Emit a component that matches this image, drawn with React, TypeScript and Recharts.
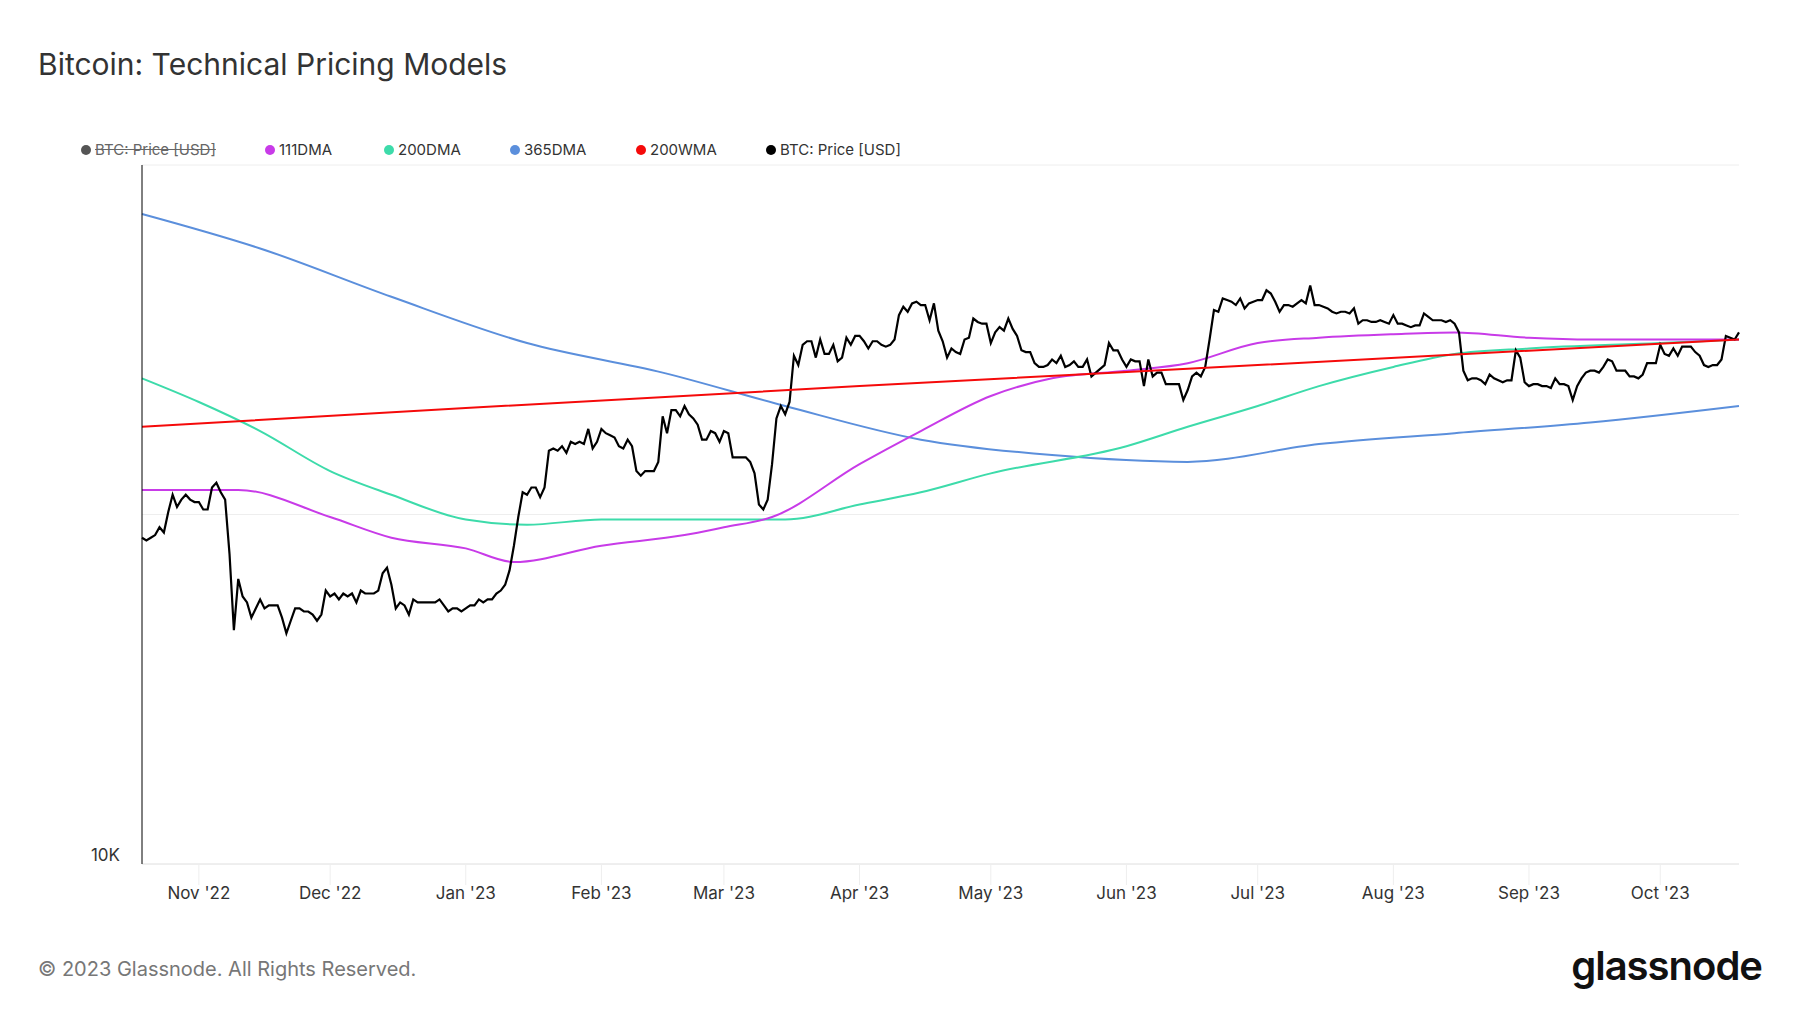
import React from 'react';
import { LineChart, Line, XAxis, YAxis, CartesianGrid } from 'recharts';

// Daily BTC price (K USD) from Oct 19 2022 to Oct 19 2023
const priceOct22 = [19.1,19.0,19.1,19.2,19.5,19.3,20.1,20.8,20.3,20.6,20.8,20.6,20.5];
const priceNov22 = [20.5,20.2,20.2,21.1,21.3,20.9,20.6,18.5,15.9,17.6,17.0,16.8,16.3,16.6,16.9,16.6,16.7,16.7,16.7,16.3,15.8,16.2,16.6,16.6,16.5,16.5,16.4,16.2,16.4,17.2];
const priceDec22 = [17.0,17.1,16.9,17.1,17.0,17.1,16.8,17.2,17.1,17.1,17.1,17.2,17.8,18.0,17.4,16.6,16.8,16.7,16.4,16.9,16.8,16.8,16.8,16.8,16.8,16.9,16.7,16.5,16.6,16.6,16.5];
const priceJan23 = [16.6,16.7,16.7,16.9,16.8,16.9,16.9,17.1,17.2,17.4,17.9,18.8,19.9,20.9,20.8,21.1,21.1,20.7,21.1,22.7,22.8,22.7,22.9,22.6,23.1,23.0,23.1,23.0,23.7,22.8,23.1];
const priceFeb23 = [23.7,23.5,23.4,23.3,22.9,22.8,23.2,22.9,21.8,21.6,21.8,21.8,21.8,22.2,24.3,23.5,24.6,24.6,24.3,24.8,24.4,24.2,23.9,23.2,23.2,23.6,23.5,23.1];
const priceMar23 = [23.6,23.5,22.4,22.4,22.4,22.4,22.2,21.7,20.4,20.2,20.6,22.1,24.2,24.8,24.4,25.0,27.4,26.9,28.0,28.2,28.2,27.3,28.3,27.5,27.5,28.0,27.1,27.3,28.4,28.0,28.5];
const priceApr23 = [28.5,28.2,27.8,28.2,28.2,28.0,27.9,28.0,28.3,29.7,30.2,29.9,30.4,30.5,30.3,30.3,29.4,30.4,28.8,28.2,27.3,27.8,27.6,27.5,28.3,28.4,29.5,29.3,29.2,29.2];
const priceMay23 = [28.1,28.7,29.0,28.8,29.5,28.9,28.5,27.7,27.6,27.6,27.0,26.8,26.8,26.9,27.2,27.0,27.4,26.8,26.9,27.1,26.8,26.8,27.2,26.3,26.5,26.7,26.9,28.1,27.7,27.7,27.2];
const priceJun23 = [26.8,27.2,27.1,27.1,25.8,27.2,26.3,26.5,26.5,25.9,25.9,25.9,25.9,25.1,25.6,26.3,26.5,26.3,26.8,28.3,30.0,29.9,30.7,30.6,30.5,30.3,30.7,30.1,30.4,30.5];
const priceJul23 = [30.6,30.6,31.2,31.0,30.5,29.9,30.3,30.3,30.2,30.4,30.6,30.4,31.5,30.3,30.3,30.2,30.1,29.9,29.8,29.9,29.9,29.8,30.1,29.2,29.4,29.4,29.3,29.3,29.4,29.3,29.2];
const priceAug23 = [29.7,29.2,29.2,29.1,29.0,29.1,29.1,29.8,29.6,29.4,29.4,29.4,29.3,29.4,29.2,28.7,26.6,26.1,26.2,26.2,26.1,25.9,26.4,26.2,26.1,26.0,26.1,26.1,27.7,27.3,26.0];
const priceSep23 = [25.8,25.9,25.9,25.8,25.8,25.7,26.2,25.9,25.9,25.8,25.1,25.8,26.2,26.5,26.6,26.6,26.5,26.8,27.2,27.1,26.6,26.6,26.6,26.3,26.3,26.2,26.4,27.0,27.0,27.0];
const priceOct23 = [28.0,27.5,27.4,27.8,27.4,27.9,27.9,27.9,27.6,27.4,26.9,26.8,26.9,26.9,27.2,28.5,28.4,28.3,28.7];

const price = [...priceOct22, ...priceNov22, ...priceDec22, ...priceJan23, ...priceFeb23, ...priceMar23, ...priceApr23, ...priceMay23, ...priceJun23, ...priceJul23, ...priceAug23, ...priceSep23, ...priceOct23];

// Moving averages read at anchor days (day index from Oct 19 2022), K USD
const ma111Days = [0, 22, 43, 57, 74, 85, 105, 124, 133, 144, 164, 178, 194, 208, 225, 239, 255, 269, 286, 300, 317, 331, 347, 365];
const ma111Vals = [21.0, 21.0, 19.9, 19.1, 18.7, 18.2, 18.8, 19.2, 19.5, 19.9, 22.1, 23.6, 25.3, 26.2, 26.6, 27.0, 28.1, 28.4, 28.6, 28.7, 28.4, 28.3, 28.3, 28.3];
const ma200Days = [0, 13, 27, 43, 57, 74, 88, 105, 133, 147, 164, 178, 194, 225, 239, 255, 269, 286, 300, 317, 347, 365];
const ma200Vals = [26.2, 25.0, 23.6, 21.8, 20.8, 19.8, 19.6, 19.8, 19.8, 19.8, 20.4, 20.9, 21.7, 22.9, 23.8, 24.8, 25.8, 26.8, 27.5, 27.8, 28.1, 28.3];
const ma365Days = [0, 27, 57, 88, 119, 147, 178, 208, 239, 269, 300, 331, 365];
const ma365Vals = [36.3, 33.9, 30.8, 28.1, 26.5, 24.8, 23.2, 22.5, 22.2, 23.0, 23.5, 24.0, 24.8];
const wma200Days = [0, 74, 164, 255, 365];
const wma200Vals = [23.8, 24.7, 25.8, 26.9, 28.3];

const tickDays = [13, 43, 74, 105, 133, 164, 194, 225, 255, 286, 317, 347];
const tickLabels = ["Nov '22", "Dec '22", "Jan '23", "Feb '23", "Mar '23", "Apr '23", "May '23", "Jun '23", "Jul '23", "Aug '23", "Sep '23", "Oct '23"];
const yTicks = [10000, 20000, 40000];

const data = price.map((p, i) => {
  const row: any = { d: i, price: p * 1000 };
  const a = ma111Days.indexOf(i); if (a >= 0) row.ma111 = ma111Vals[a] * 1000;
  const b = ma200Days.indexOf(i); if (b >= 0) row.ma200 = ma200Vals[b] * 1000;
  const c = ma365Days.indexOf(i); if (c >= 0) row.ma365 = ma365Vals[c] * 1000;
  const w = wma200Days.indexOf(i); if (w >= 0) row.wma200 = wma200Vals[w] * 1000;
  return row;
});

const legend = [
  { label: 'BTC: Price [USD]', color: '#555', x: 81, strike: true },
  { label: '111DMA', color: '#c83be8', x: 265 },
  { label: '200DMA', color: '#3ddbaa', x: 384 },
  { label: '365DMA', color: '#5b8fdc', x: 510 },
  { label: '200WMA', color: '#f50a0a', x: 636 },
  { label: 'BTC: Price [USD]', color: '#000', x: 766 },
];

const font = 'Inter, "Noto Sans", sans-serif';

export default function App() {
  return (
    <div style={{ position: 'absolute', left: 0, top: 0, width: 1800, height: 1013, background: '#fff', fontFamily: font }}>
      <div style={{ position: 'absolute', left: 38, top: 46, fontSize: 30, color: '#333' }}>Bitcoin: Technical Pricing Models</div>
      {legend.map((l, i) => (
        <div key={i} style={{ position: 'absolute', left: l.x, top: 140, fontSize: 15, color: l.strike ? '#666' : '#333', display: 'flex', alignItems: 'center', whiteSpace: 'nowrap' }}>
          <span style={{ width: 10, height: 10, borderRadius: 5, background: l.color, marginRight: 4, display: 'inline-block' }} />
          <span style={{ textDecoration: l.strike ? 'line-through' : 'none' }}>{l.label}</span>
        </div>
      ))}
      <LineChart width={1800} height={1013} data={data} margin={{ top: 165, right: 61, bottom: 89, left: 82 }} style={{ position: 'absolute', left: 0, top: 0 }}>
        <CartesianGrid vertical={false} stroke="#eee" />
        <XAxis dataKey="d" type="number" domain={[0, 365]} ticks={tickDays} tickFormatter={(v: number) => tickLabels[tickDays.indexOf(v)]}
          stroke="#e6e6e6" tickLine={{ stroke: '#eee' }} tickSize={21} tick={{ fill: '#333', fontSize: 17, fontFamily: font }} height={60} />
        <YAxis scale="log" domain={[10000, 40000]} ticks={yTicks} allowDataOverflow type="number" width={60}
          tickFormatter={(v: number) => (v === 10000 ? '10K' : '')} axisLine={{ stroke: '#000' }} tickLine={false}
          tick={{ fill: '#333', fontSize: 17, fontFamily: font, dy: -9, dx: -14 }} />
        <Line dataKey="ma365" stroke="#5b8fdc" strokeWidth={2} dot={false} type="monotone" connectNulls isAnimationActive={false} />
        <Line dataKey="ma200" stroke="#3ddbaa" strokeWidth={2} dot={false} type="monotone" connectNulls isAnimationActive={false} />
        <Line dataKey="ma111" stroke="#c83be8" strokeWidth={2} dot={false} type="monotone" connectNulls isAnimationActive={false} />
        <Line dataKey="price" stroke="#000" strokeWidth={2.2} dot={false} type="linear" isAnimationActive={false} />
        <Line dataKey="wma200" stroke="#f50a0a" strokeWidth={2} dot={false} type="monotone" connectNulls isAnimationActive={false} />
      </LineChart>
      <div style={{ position: 'absolute', left: 38, top: 957, fontSize: 20, color: '#777' }}>© 2023 Glassnode. All Rights Reserved.</div>
      <div style={{ position: 'absolute', right: 38, top: 941, fontSize: 40, fontWeight: 600, color: '#111', letterSpacing: -1 }}>glassnode</div>
    </div>
  );
}
